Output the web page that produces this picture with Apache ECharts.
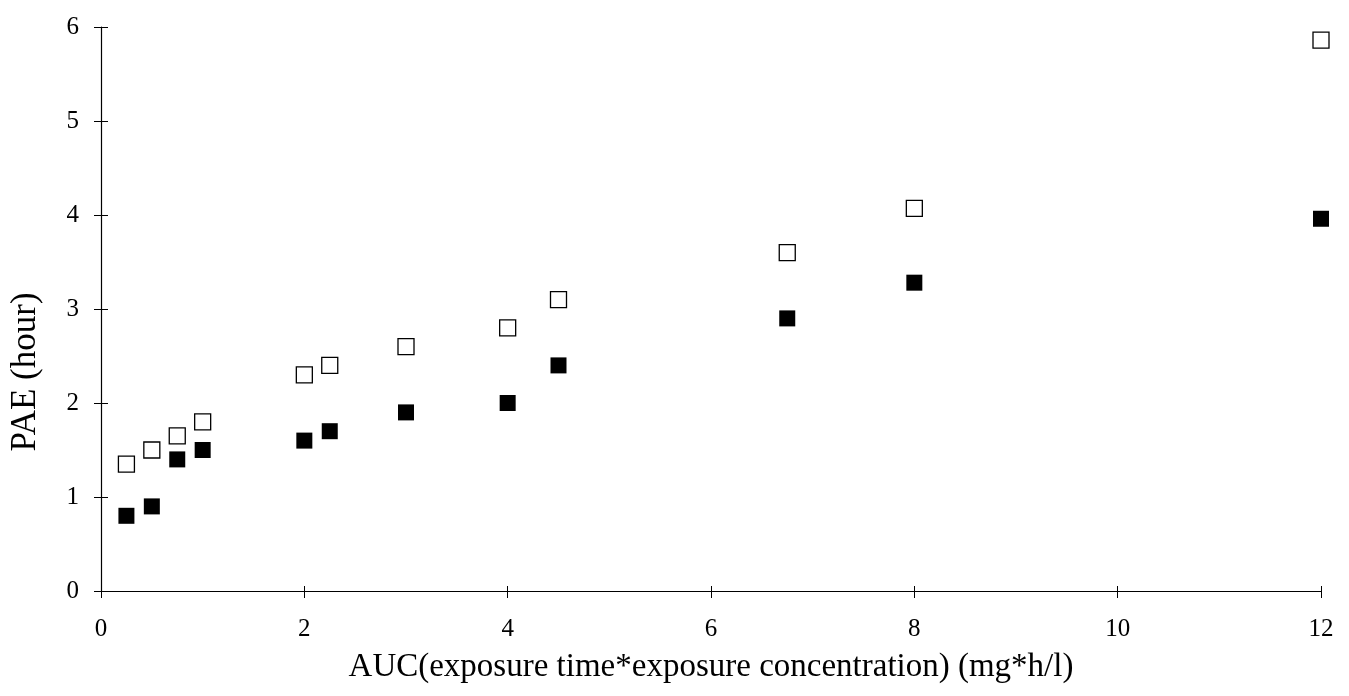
<!DOCTYPE html>
<html>
<head>
<meta charset="utf-8">
<script src="https://cdn.jsdelivr.net/npm/echarts@6/dist/echarts.min.js"></script>
<style>html,body{margin:0;padding:0;background:#fff;}#c{width:1349px;height:696px;}</style>
</head>
<body>
<div id="c"></div>
<script>
const auc = [0.25, 0.5, 0.75, 1, 2, 2.25, 3, 4, 4.5, 6.75, 8, 12];
const paeOpen = [1.35, 1.5, 1.65, 1.8, 2.3, 2.4, 2.6, 2.8, 3.1, 3.6, 4.07, 5.86];
const paeFilled = [0.8, 0.9, 1.4, 1.5, 1.6, 1.7, 1.9, 2.0, 2.4, 2.9, 3.28, 3.96];
const xTitle = 'AUC(exposure time*exposure concentration) (mg*h/l)';
const yTitle = 'PAE (hour)';

const font = 'Liberation Serif';
const chart = echarts.init(document.getElementById('c'));
const mk = (arr) => auc.map((x, i) => [x, arr[i]]);
chart.setOption({
  animation: false,
  grid: { left: 101, right: 28, top: 27, bottom: 105 },
  graphic: [{
    type: 'text', x: 26, y: 372, rotation: Math.PI / 2,
    style: { text: yTitle, font: '35px "Liberation Serif"', fill: '#000',
             textAlign: 'center', textVerticalAlign: 'middle' }
  }],
  xAxis: [{
    type: 'value', min: 0, max: 12, interval: 2,
    name: xTitle, nameLocation: 'middle', nameGap: 60,
    nameTextStyle: { fontFamily: font, fontSize: 33, color: '#000' },
    axisLine: { lineStyle: { color: '#000', width: 1.2 } },
    axisTick: { show: true, length: 7, lineStyle: { color: '#000' } },
    axisLabel: { fontFamily: font, fontSize: 25, color: '#000', margin: 26 },
    splitLine: { show: false }
  }, {
    type: 'value', min: 0, max: 12, interval: 2, position: 'bottom',
    axisLine: { show: false },
    axisTick: { show: true, inside: true, length: 5, lineStyle: { color: '#000' } },
    axisLabel: { show: false }, splitLine: { show: false }
  }],
  yAxis: [{
    type: 'value', min: 0, max: 6, interval: 1,
    axisLine: { lineStyle: { color: '#000', width: 1.2 } },
    axisTick: { show: true, length: 7, lineStyle: { color: '#000' } },
    axisLabel: { fontFamily: font, fontSize: 25, color: '#000', margin: 22 },
    splitLine: { show: false }
  }, {
    type: 'value', min: 0, max: 6, interval: 1, position: 'left',
    axisLine: { show: false },
    axisTick: { show: true, inside: true, length: 7, lineStyle: { color: '#000' } },
    axisLabel: { show: false }, splitLine: { show: false }
  }],
  series: [{
    type: 'scatter', symbol: 'rect', symbolSize: 16,
    data: mk(paeOpen),
    itemStyle: { color: '#fff', borderColor: '#000', borderWidth: 1.3, opacity: 1 }
  }, {
    type: 'scatter', symbol: 'rect', symbolSize: 16,
    data: mk(paeFilled),
    itemStyle: { color: '#000', opacity: 1 }
  }]
});
</script>
</body>
</html>
